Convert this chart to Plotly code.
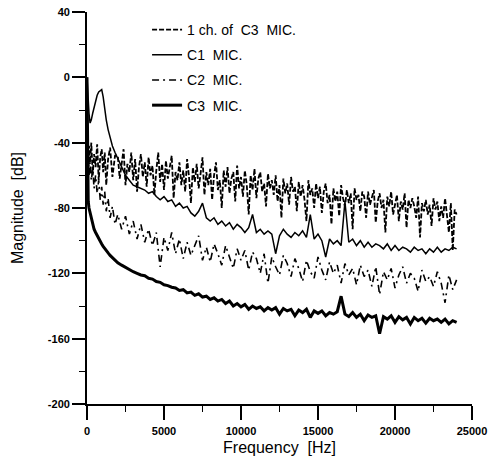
import plotly.graph_objects as go

# ---------------- data ----------------
freq_hz = [0, 40, 80, 130, 200, 280, 370, 460, 560, 660, 760, 860, 955, 1050,
           1150, 1250, 1370, 1500, 1650, 1820, 2000,
           2250, 2500, 2750, 3000, 3250, 3500, 3750, 4000, 4250, 4500, 4750,
           5000, 5250, 5500, 5750, 6000, 6250, 6500, 6750, 7000, 7250, 7500,
           7750, 8000, 8250, 8500, 8750, 9000, 9250, 9500, 9750, 10000, 10250,
           10500, 10750, 11000, 11250, 11500, 11750, 12000, 12250, 12500, 12750,
           13000, 13250, 13500, 13750, 14000, 14250, 14500, 14750, 15000, 15250,
           15500, 15750, 16000, 16250, 16500, 16750, 17000, 17250, 17500, 17750,
           18000, 18250, 18500, 18750, 19000, 19250, 19500, 19750, 20000, 20250,
           20500, 20750, 21000, 21250, 21500, 21750, 22000, 22250, 22500, 22750,
           23000, 23250, 23500, 23750, 24000]

# single-channel spectrum is read at a finer frequency spacing
one_ch_freq_hz = [0, 40, 80, 130, 200, 280, 370, 460, 560, 660, 760, 860, 955,
                  1050, 1150, 1250, 1370, 1500, 1650, 1820,
                  2000, 2125, 2250, 2375, 2500, 2625, 2750, 2875,
                  3000, 3125, 3250, 3375, 3500, 3625, 3750, 3875,
                  4000, 4125, 4250, 4375, 4500, 4625, 4750, 4875,
                  5000, 5125, 5250, 5375, 5500, 5625, 5750, 5875,
                  6000, 6125, 6250, 6375, 6500, 6625, 6750, 6875,
                  7000, 7125, 7250, 7375, 7500, 7625, 7750, 7875,
                  8000, 8125, 8250, 8375, 8500, 8625, 8750, 8875,
                  9000, 9125, 9250, 9375, 9500, 9625, 9750, 9875,
                  10000, 10125, 10250, 10375, 10500, 10625, 10750, 10875,
                  11000, 11125, 11250, 11375, 11500, 11625, 11750, 11875,
                  12000, 12125, 12250, 12375, 12500, 12625, 12750, 12875,
                  13000, 13125, 13250, 13375, 13500, 13625, 13750, 13875,
                  14000, 14125, 14250, 14375, 14500, 14625, 14750, 14875,
                  15000, 15125, 15250, 15375, 15500, 15625, 15750, 15875,
                  16000, 16125, 16250, 16375, 16500, 16625, 16750, 16875,
                  17000, 17125, 17250, 17375, 17500, 17625, 17750, 17875,
                  18000, 18125, 18250, 18375, 18500, 18625, 18750, 18875,
                  19000, 19125, 19250, 19375, 19500, 19625, 19750, 19875,
                  20000, 20125, 20250, 20375, 20500, 20625, 20750, 20875,
                  21000, 21125, 21250, 21375, 21500, 21625, 21750, 21875,
                  22000, 22125, 22250, 22375, 22500, 22625, 22750, 22875,
                  23000, 23125, 23250, 23375, 23500, 23625, 23750, 23875,
                  24000]

one_ch_c3_db = [-38, -45, -58, -42, -52, -40, -60, -47, -55, -41, -63, -49, -44,
                -58, -46, -66, -50, -43, -61, -48,
                -48, -62, -51, -44, -66, -53, -58, -46,
                -63, -50, -70, -55, -47, -61, -52, -67,
                -49, -60, -54, -72, -57, -46, -64, -53,
                -69, -51, -62, -56, -48, -74, -58, -63,
                -52, -66, -57, -70, -50, -61, -77, -55,
                -64, -53, -68, -59, -49, -72, -58, -66,
                -56, -75, -60, -52, -69, -63, -80, -57,
                -67, -55, -71, -62, -58, -76, -54, -68,
                -61, -73, -57, -66, -84, -60, -69, -56,
                -74, -62, -58, -70, -65, -79, -59, -68,
                -63, -72, -60, -76, -66, -86, -62, -71,
                -65, -78, -61, -70, -67, -82, -64, -73,
                -66, -75, -88, -63, -72, -68, -80, -65,
                -74, -67, -83, -70, -65, -77, -72, -90,
                -68, -76, -70, -85, -66, -74, -79, -69,
                -77, -71, -93, -68, -75, -72, -82, -70,
                -73, -86, -70, -78, -74, -69, -89, -76,
                -71, -80, -75, -95, -73, -79, -70, -84,
                -78, -72, -88, -76, -81, -71, -92, -75,
                -80, -74, -79, -86, -73, -98, -77, -82,
                -75, -84, -78, -91, -74, -81, -76, -88,
                -79, -86, -74, -83, -95, -77, -106, -81,
                -84]

c1_db = [0, -8, -14, -22, -28, -26, -22, -18, -14, -11, -9, -8, -7.5, -12,
         -20, -26, -32, -37, -42, -46, -50,
         -55, -60, -63, -66, -67, -68, -69, -71, -70, -73, -75,
         -73, -76, -75, -79, -77, -80, -79, -83, -85, -82, -77,
         -86, -88, -86, -90, -88, -91, -89, -93, -90, -92, -95,
         -92, -84, -95, -93, -96, -94, -96, -108, -97, -93,
         -96, -98, -95, -97, -94, -98, -84, -99, -96, -100,
         -110, -99, -102, -100, -103, -76, -101, -99, -103, -100,
         -104, -101, -104, -102, -103, -105, -102, -106, -103, -106,
         -104, -105, -107, -104, -106, -105, -108, -105, -107, -104,
         -107, -105, -106, -104, -105]

c2_db = [-45, -55, -47, -60, -52, -63, -56, -68, -60, -71, -63, -75, -67, -78,
         -70, -82, -74, -86, -79, -90, -84,
         -93, -85, -96, -88, -99, -90, -101, -93, -103, -95, -116,
         -98, -106, -95, -108, -99, -111, -101, -109, -103, -97, -112,
         -104, -113, -102, -108, -115, -103, -110, -117, -105, -112, -106,
         -118, -107, -111, -120, -108, -126, -110, -116, -121, -109, -114,
         -122, -111, -117, -125, -112, -119, -123, -110, -118, -124, -113,
         -120, -115, -126, -114, -121, -117, -127, -115, -122, -118, -128,
         -116, -133, -119, -124, -117, -129, -121, -116, -126, -120, -123,
         -131, -118, -125, -122, -128, -119, -126, -138, -121, -130, -124]

c3_db = [0, -70, -76, -80, -83, -87, -90, -93, -95, -97, -99, -100.5, -102, -103.5,
         -105, -106, -107.5, -109, -110.5, -112, -113.5,
         -115, -116.5, -117.5, -119, -120, -121, -121.5, -123, -123.5, -125, -125.5,
         -127, -127.5, -128.5, -129, -130.5, -130, -132, -131.5, -133.5, -132.5, -134.5,
         -134, -136, -135, -137, -136, -138.5, -137, -140, -138.5, -140.5, -139,
         -142, -140, -141.5, -140.5, -143, -141, -142.5, -141, -145, -141.5,
         -143, -142, -146, -142.5, -144, -142, -147, -143, -144.5, -143,
         -146, -144, -145, -143.5, -134, -145, -146.5, -144, -147, -145,
         -149, -145.5, -147, -146, -157, -146.5, -148, -146, -150, -146.5,
         -148.5, -147, -151, -147, -149, -147.5, -150.5, -147.5, -149, -148,
         -150, -148, -151, -149, -150]

series_names = ["1 ch. of  C3  MIC.", "C1  MIC.", "C2  MIC.", "C3  MIC."]

x_ticks = [0, 5000, 10000, 15000, 20000, 25000]
y_ticks = [40, 0, -40, -80, -120, -160, -200]

assert len(one_ch_c3_db) == len(one_ch_freq_hz), (len(one_ch_c3_db), len(one_ch_freq_hz))
for arr in (c1_db, c2_db, c3_db):
    assert len(arr) == len(freq_hz), (len(arr), len(freq_hz))

# ---------------- figure ----------------
FONT = "Arial, 'Liberation Sans', Helvetica, sans-serif"

fig = go.Figure()

fig.add_trace(go.Scatter(
    x=one_ch_freq_hz, y=one_ch_c3_db, name=series_names[0], mode="lines",
    line=dict(color="black", width=1.8, dash="5px,2px"),
    legendgroup="one"))
fig.add_trace(go.Scatter(
    x=freq_hz, y=c1_db, name=series_names[1], mode="lines",
    line=dict(color="black", width=1.5),
    legendgroup="c1"))
fig.add_trace(go.Scatter(
    x=freq_hz, y=c2_db, name=series_names[2], mode="lines",
    line=dict(color="black", width=1.6, dash="7px,4px,2px,4px"),
    legendgroup="c2"))
fig.add_trace(go.Scatter(
    x=freq_hz, y=c3_db, name=series_names[3], mode="lines",
    line=dict(color="black", width=3),
    legendgroup="c3"))

axis_common = dict(
    showgrid=False, zeroline=False, showline=True, linecolor="black",
    linewidth=1.8, ticks="outside", tickwidth=1.6,
    tickcolor="black", mirror=False, automargin=False,
    tickfont=dict(family=FONT, size=11, color="black", weight="bold"),
)

fig.update_xaxes(
    range=[0, 25000], tickvals=x_ticks, ticktext=[str(v) for v in x_ticks],
    ticklen=14, ticklabelstandoff=2,
    minor=dict(dtick=2500, ticklen=6, tickwidth=1.4, tickcolor="black",
               ticks="outside"),
    title=dict(text="Frequency  [Hz]", font=dict(family=FONT, size=16,
                                                  color="black"), standoff=6),
    **axis_common)
fig.update_yaxes(
    range=[-200, 40], tickvals=y_ticks, ticktext=[str(v) for v in y_ticks],
    ticklen=13,
    minor=dict(dtick=20, ticklen=6, tickwidth=1.4, tickcolor="black",
               ticks="outside"),
    title=dict(text="Magnitude  [dB]", font=dict(family=FONT, size=16,
                                                  color="black"), standoff=20),
    **axis_common)

fig.update_layout(
    width=489, height=462,
    margin=dict(l=87, r=17, t=12, b=58),
    paper_bgcolor="white", plot_bgcolor="white",
    showlegend=True,
    legend=dict(x=0.156, y=0.995, xanchor="left", yanchor="top",
                bgcolor="rgba(0,0,0,0)", borderwidth=0,
                font=dict(family=FONT, size=14, color="black"),
                tracegroupgap=4, traceorder="grouped"),
)

# remove the browser's default 8 px page margin so the figure fills the window
fig.write_html("out.html",
               config={"displayModeBar": False},
               post_script="document.body.style.margin='0';"
                           "document.body.style.overflow='hidden';")
